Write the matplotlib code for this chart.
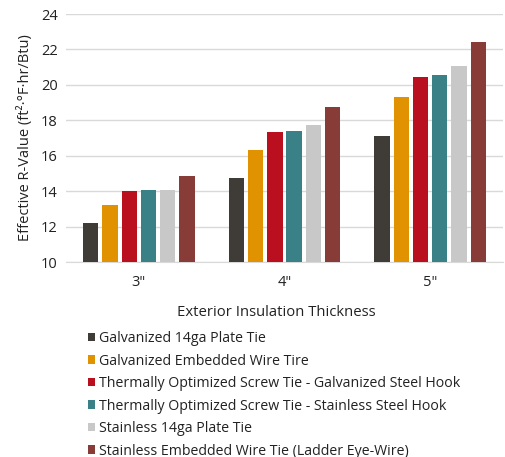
import matplotlib
matplotlib.use("Agg")
import matplotlib.pyplot as plt
import numpy as np

plt.rcParams['font.family'] = ['Open Sans', 'DejaVu Sans']

categories = ['3"', '4"', '5"']
series = [
    "Galvanized 14ga Plate Tie",
    "Galvanized Embedded Wire Tire",
    "Thermally Optimized Screw Tie - Galvanized Steel Hook",
    "Thermally Optimized Screw Tie - Stainless Steel Hook",
    "Stainless 14ga Plate Tie",
    "Stainless Embedded Wire Tie (Ladder Eye-Wire)",
]
values = [
    [12.2, 14.74, 17.1],
    [13.2, 16.33, 19.3],
    [14.02, 17.33, 20.47],
    [14.08, 17.42, 20.55],
    [14.08, 17.71, 21.05],
    [14.85, 18.74, 22.44],
]
colors = ["#3F3B36", "#E09200", "#BA0F1E", "#3A8087", "#C8C8C8", "#873C37"]

fig = plt.figure(figsize=(5.05, 4.57), dpi=100)
ax = fig.add_axes([66/505, 1-262/457, (503-66)/505, (262-14)/457])

x = np.arange(len(categories))
step = 0.132
width = 0.105
n = len(series)
for i, (name, vals, c) in enumerate(zip(series, values, colors)):
    ax.bar(x + (i - (n-1)/2)*step, vals, width=width, bottom=0, color=c, label=name, zorder=3)

ax.set_ylim(10, 24)
ax.set_xlim(-0.5, 2.5)
ax.set_yticks(np.arange(10, 25, 2))
ax.set_xticks(x)
ax.set_xticklabels(categories)
ax.grid(axis='y', color='#D9D9D9', linewidth=1, zorder=0)
for s in ['top', 'right', 'left']:
    ax.spines[s].set_visible(False)
ax.spines['bottom'].set_color('#D9D9D9')
ax.tick_params(axis='both', length=0, labelsize=10.5, colors='#222222', pad=6)
ax.tick_params(axis='x', pad=9)
ax.set_ylabel("Effective R-Value (ft²·°F·hr/Btu)", fontsize=10.5, color='#222222', labelpad=6)
fig.text(276/505, 1-313/457, "Exterior Insulation Thickness", fontsize=10.7,
         color='#222222', ha='center', va='center')

handles, labels = ax.get_legend_handles_labels()
fig.legend(handles, labels, loc='upper left', bbox_to_anchor=(88/505, 1-331/457),
           frameon=False, fontsize=10.2, handlelength=0.5, handleheight=0.5,
           handletextpad=0.25, labelspacing=0.53, borderaxespad=0, borderpad=0,
           labelcolor='#222222')

fig.savefig("out.png", dpi=100)
